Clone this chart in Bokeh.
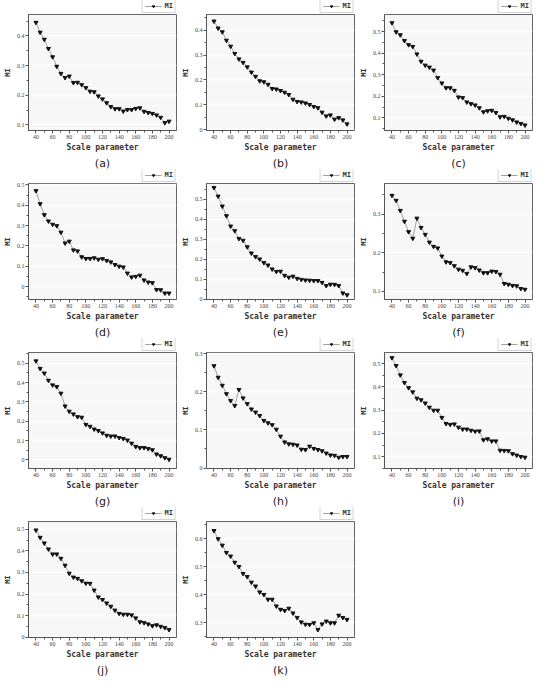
from bokeh.plotting import figure
from bokeh.layouts import column, row
from bokeh.models import Legend, LegendItem, Title, Range1d, SingleIntervalTicker
from bokeh.embed import file_html
from bokeh.resources import INLINE

scale = [40, 45, 50, 55, 60, 65, 70, 75, 80, 85, 90, 95, 100, 105, 110, 115, 120,
         125, 130, 135, 140, 145, 150, 155, 160, 165, 170, 175, 180, 185, 190, 195, 200]

mi_a = [0.445, 0.412, 0.388, 0.357, 0.329, 0.297, 0.273, 0.259, 0.264, 0.242, 0.243, 0.235,
        0.225, 0.213, 0.211, 0.197, 0.187, 0.174, 0.161, 0.154, 0.154, 0.146, 0.151, 0.151,
        0.155, 0.157, 0.145, 0.141, 0.138, 0.133, 0.125, 0.107, 0.112]
mi_b = [0.436, 0.408, 0.393, 0.359, 0.335, 0.306, 0.284, 0.270, 0.252, 0.231, 0.214, 0.196,
        0.192, 0.182, 0.165, 0.163, 0.157, 0.150, 0.141, 0.122, 0.113, 0.111, 0.107, 0.101,
        0.093, 0.088, 0.070, 0.055, 0.059, 0.042, 0.048, 0.039, 0.023]
mi_c = [0.541, 0.499, 0.485, 0.458, 0.439, 0.431, 0.396, 0.362, 0.344, 0.335, 0.321, 0.286,
        0.261, 0.239, 0.239, 0.227, 0.196, 0.193, 0.173, 0.165, 0.159, 0.146, 0.127, 0.132,
        0.134, 0.124, 0.104, 0.106, 0.097, 0.090, 0.080, 0.073, 0.066]
mi_d = [0.471, 0.407, 0.353, 0.322, 0.306, 0.299, 0.267, 0.214, 0.223, 0.180, 0.175, 0.146,
        0.138, 0.138, 0.141, 0.134, 0.137, 0.128, 0.121, 0.108, 0.100, 0.096, 0.066, 0.047,
        0.050, 0.056, 0.032, 0.022, 0.019, -0.015, -0.016, -0.032, -0.032]
mi_e = [0.558, 0.515, 0.465, 0.417, 0.365, 0.342, 0.303, 0.294, 0.261, 0.230, 0.212, 0.200,
        0.182, 0.170, 0.150, 0.138, 0.139, 0.118, 0.109, 0.114, 0.103, 0.098, 0.095, 0.094,
        0.092, 0.092, 0.083, 0.067, 0.074, 0.073, 0.067, 0.030, 0.021]
mi_f = [0.348, 0.335, 0.309, 0.281, 0.254, 0.237, 0.289, 0.265, 0.247, 0.227, 0.216, 0.212,
        0.191, 0.176, 0.174, 0.166, 0.157, 0.154, 0.146, 0.163, 0.161, 0.155, 0.148, 0.148,
        0.152, 0.151, 0.144, 0.120, 0.118, 0.115, 0.114, 0.107, 0.105]
mi_g = [0.511, 0.472, 0.448, 0.411, 0.387, 0.378, 0.344, 0.278, 0.251, 0.237, 0.223, 0.220,
        0.183, 0.173, 0.159, 0.151, 0.139, 0.127, 0.123, 0.123, 0.115, 0.110, 0.102, 0.086,
        0.069, 0.063, 0.063, 0.058, 0.052, 0.030, 0.021, 0.011, 0.003]
mi_h = [0.267, 0.237, 0.216, 0.194, 0.176, 0.163, 0.205, 0.183, 0.168, 0.154, 0.146, 0.137,
        0.124, 0.118, 0.113, 0.101, 0.083, 0.068, 0.063, 0.062, 0.060, 0.049, 0.048, 0.057,
        0.051, 0.048, 0.045, 0.039, 0.034, 0.033, 0.028, 0.030, 0.030]
mi_i = [0.525, 0.491, 0.451, 0.418, 0.396, 0.378, 0.351, 0.344, 0.330, 0.312, 0.299, 0.299,
        0.268, 0.242, 0.238, 0.240, 0.226, 0.218, 0.218, 0.213, 0.209, 0.210, 0.172, 0.176,
        0.167, 0.167, 0.127, 0.126, 0.125, 0.112, 0.106, 0.100, 0.097]
mi_j = [0.496, 0.462, 0.436, 0.408, 0.385, 0.385, 0.365, 0.333, 0.296, 0.278, 0.272, 0.261,
        0.250, 0.249, 0.218, 0.186, 0.174, 0.158, 0.143, 0.125, 0.110, 0.106, 0.106, 0.103,
        0.089, 0.071, 0.067, 0.061, 0.053, 0.057, 0.050, 0.044, 0.035]
mi_k = [0.629, 0.600, 0.577, 0.551, 0.538, 0.516, 0.501, 0.476, 0.465, 0.445, 0.431, 0.410,
        0.401, 0.384, 0.384, 0.360, 0.348, 0.344, 0.352, 0.335, 0.319, 0.303, 0.295, 0.294,
        0.300, 0.276, 0.296, 0.306, 0.300, 0.300, 0.327, 0.319, 0.312]

panel_labels = ["(a)", "(b)", "(c)", "(d)", "(e)", "(f)", "(g)", "(h)", "(i)", "(j)", "(k)"]
series = [mi_a, mi_b, mi_c, mi_d, mi_e, mi_f, mi_g, mi_h, mi_i, mi_j, mi_k]
y_ranges = [(0.081, 0.472), (-0.003, 0.463), (0.041, 0.580), (-0.063, 0.507),
            (-0.002, 0.579), (0.079, 0.379), (-0.044, 0.555), (-0.001, 0.302),
            (0.049, 0.548), (-0.001, 0.536), (0.248, 0.662)]
x_label = "Scale parameter"
y_label = "MI"
legend_label = "MI"

W = 178
FH = 116
LEG_H = 13

LINE_STYLE = dict(line_color="#8c8c8c", line_width=0.8)
MARK_STYLE = dict(marker="inverted_triangle", size=4, fill_color="#111111", line_color="#111111")


def make_legend_fig(ys):
    # legend strip above the frame; its renderers hold the panel's data but the
    # strip's ranges keep them out of view, so only the legend entry is drawn
    q = figure(width=W, height=LEG_H, output_backend="svg", toolbar_location=None,
               x_range=Range1d(0, 1), y_range=Range1d(0, 1),
               x_axis_type=None, y_axis_type=None,
               min_border_left=0, min_border_right=2, min_border_top=0, min_border_bottom=0)
    q.title.visible = False
    q.outline_line_color = None
    q.background_fill_color = "white"
    q.border_fill_color = "white"
    q.grid.visible = False
    ln = q.line(scale, ys, **LINE_STYLE)
    sc = q.scatter(scale, ys, **MARK_STYLE)
    leg = Legend(items=[LegendItem(label=legend_label, renderers=[ln, sc])],
                 location="bottom_right", orientation="horizontal")
    leg.label_text_font = "DejaVu Sans Mono"
    leg.label_text_font_size = "7px"
    leg.label_text_font_style = "bold"
    leg.label_text_color = "#333333"
    leg.label_height = 6
    leg.label_width = 8
    leg.label_standoff = 3
    leg.glyph_width = 17
    leg.glyph_height = 6
    leg.padding = 2
    leg.margin = 0
    leg.spacing = 0
    leg.border_line_color = "#aaaaaa"
    leg.border_line_width = 1
    leg.background_fill_color = "white"
    q.add_layout(leg, "center")
    return q


def make_panel(ys, label, yr):
    p = figure(width=W, frame_height=FH, output_backend="svg", toolbar_location=None,
               x_range=Range1d(31, 209), y_range=Range1d(*yr),
               min_border_left=0, min_border_right=2, min_border_top=1, min_border_bottom=0)
    p.title.visible = False
    p.background_fill_color = "#f7f7f7"
    p.border_fill_color = "white"
    p.outline_line_color = "#666666"
    p.outline_line_width = 1
    p.xgrid.grid_line_color = None
    p.ygrid.grid_line_color = "#ffffff"
    p.ygrid.grid_line_width = 1.5

    p.xaxis.ticker = SingleIntervalTicker(interval=20, num_minor_ticks=2)
    p.yaxis.ticker = SingleIntervalTicker(interval=0.1, num_minor_ticks=2)
    p.yaxis.formatter.use_scientific = False
    p.yaxis.formatter.precision = 1

    for ax in (p.xaxis[0], p.yaxis[0]):
        ax.axis_line_color = "#555555"
        ax.major_tick_line_color = "#555555"
        ax.minor_tick_line_color = "#555555"
        ax.major_tick_out = 3
        ax.major_tick_in = 0
        ax.minor_tick_out = 2
        ax.minor_tick_in = 0
        ax.major_label_text_font = "Liberation Serif"
        ax.major_label_text_font_size = "6px"
        ax.major_label_text_color = "#444444"
        ax.major_label_standoff = 1
        ax.axis_label_text_font = "DejaVu Sans Mono"
        ax.axis_label_text_font_style = "bold"
        ax.axis_label_text_color = "#333333"
        ax.axis_label_standoff = 2

    p.xaxis.axis_label = x_label
    p.xaxis.axis_label_text_font_size = "8px"
    p.xaxis.axis_label_standoff = 1
    p.yaxis.axis_label = y_label
    p.yaxis.axis_label_text_font_size = "7px"

    p.line(scale, ys, **LINE_STYLE)
    p.scatter(scale, ys, **MARK_STYLE)

    t = Title(text=label, align="center", text_font="DejaVu Sans",
              text_font_size="11px", text_font_style="normal", text_color="#222222",
              offset=0, standoff=0)
    p.add_layout(t, "below")
    return column(make_legend_fig(ys), p, spacing=0)


panels = [make_panel(s, l, r) for s, l, r in zip(series, panel_labels, y_ranges)]

layout = column(
    row(*panels[0:3], spacing=0),
    row(*panels[3:6], spacing=0),
    row(*panels[6:9], spacing=0),
    row(*panels[9:11], spacing=0),
    spacing=0,
)

open("out.html", "w").write(file_html(layout, INLINE))
